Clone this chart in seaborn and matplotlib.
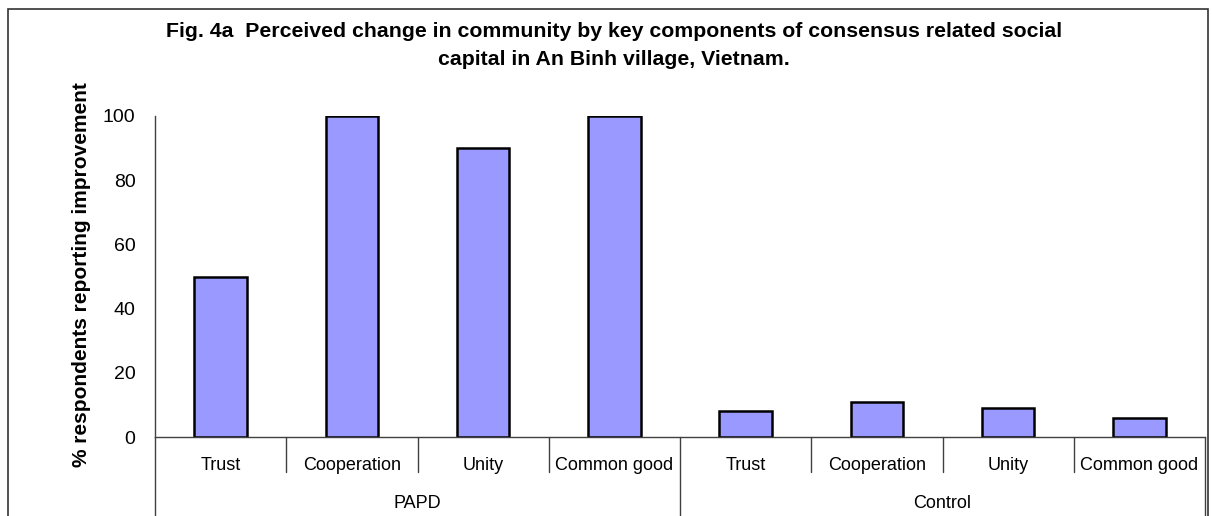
import matplotlib
matplotlib.use("Agg")
import matplotlib.pyplot as plt
import matplotlib.transforms as mtransforms
from matplotlib.patches import Rectangle
import seaborn as sns
import pandas as pd

# ---- data ----
components = ["Trust", "Cooperation", "Unity", "Common good"]
groups = ["PAPD", "Control"]
papd_values = [50, 100, 90, 100]
control_values = [8, 11, 9, 6]
yticks = [0, 20, 40, 60, 80, 100]
title_line1 = "Fig. 4a  Perceived change in community by key components of consensus related social"
title_line2 = "capital in An Binh village, Vietnam."
ylabel = "% respondents reporting improvement"

slots, comps, grps, vals = [], [], [], []
for g, values in zip(groups, [papd_values, control_values]):
    for c, v in zip(components, values):
        slots.append(f"{g}|{c}")
        comps.append(c)
        grps.append(g)
        vals.append(v)
df = pd.DataFrame({"slot": slots, "component": comps, "group": grps, "value": vals})

sns.set_theme(style="white")
plt.rcParams["font.family"] = ["Liberation Sans", "DejaVu Sans"]
plt.rcParams["text.color"] = "black"
plt.rcParams["axes.labelcolor"] = "black"
plt.rcParams["ytick.color"] = "black"
plt.rcParams["xtick.color"] = "black"

W, H = 1212, 516
fig = plt.figure(figsize=(W / 100, H / 100), dpi=100)
ax_left, ax_right, ax_top, ax_bottom = 155, 1205, 116, 437
ax = fig.add_axes([ax_left / W, 1 - ax_bottom / H, (ax_right - ax_left) / W, (ax_bottom - ax_top) / H])

sns.barplot(data=df, x="slot", y="value", order=slots, color="#9999FF",
            saturation=1, edgecolor="black", linewidth=1.8, width=0.4, ax=ax)

axcol = "#404040"
ax.set_xlim(-0.5, len(slots) - 0.5)
ax.set_ylim(0, 100)
ax.set_yticks(yticks)
ax.set_yticklabels([str(t) for t in yticks])
ax.tick_params(axis="y", labelsize=14, length=6, width=1, color=axcol, pad=8, labelcolor="black")
ax.set_xticks([])
ax.set_xlabel("")
ax.set_ylabel("")
for s in ["top", "right"]:
    ax.spines[s].set_visible(False)
for s in ["left", "bottom"]:
    ax.spines[s].set_color(axcol)
    ax.spines[s].set_linewidth(1)

axh = ax_bottom - ax_top
trans = mtransforms.blended_transform_factory(ax.transData, ax.transAxes)
cat_base = (ax_bottom - 470) / axh
grp_base = (ax_bottom - 508) / axh
sep_short = (ax_bottom - 472) / axh
sep_long = (ax_bottom - 530) / axh

for i, c in enumerate(comps):
    ax.text(i, cat_base, c, transform=trans, ha="center", va="baseline", fontsize=13, color="black")
for gi, g in enumerate(groups):
    center = gi * len(components) + (len(components) - 1) / 2
    ax.text(center, grp_base, g, transform=trans, ha="center", va="baseline", fontsize=13, color="black")

for i in range(len(slots) + 1):
    x = i - 0.5
    if i % len(components) == 0:
        ax.plot([x, x], [0, sep_long], transform=trans, color=axcol, lw=1, clip_on=False)
    else:
        ax.plot([x, x], [0, sep_short], transform=trans, color=axcol, lw=1, clip_on=False)

# y label
fig.text(82 / W, 1 - 275 / H, ylabel, rotation=90, ha="center", va="center",
         fontsize=15, fontweight="bold", color="black")

# title
fig.text(614 / W, 1 - 37 / H, title_line1, ha="center", va="baseline", fontsize=15.3,
         fontweight="bold", color="black")
fig.text(614 / W, 1 - 65 / H, title_line2, ha="center", va="baseline", fontsize=15.3,
         fontweight="bold", color="black")

# outer frame
fig.add_artist(Rectangle((8 / W, -0.1), 1200 / W, 1.1 - 9 / H, transform=fig.transFigure,
                         fill=False, edgecolor="#333333", lw=1.2))

fig.savefig("out.png", dpi=100)
